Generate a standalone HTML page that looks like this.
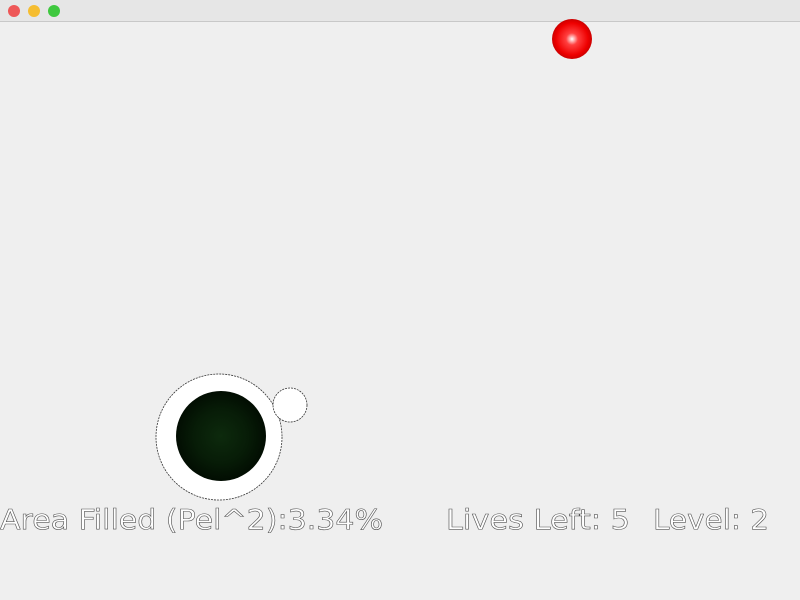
<!DOCTYPE html>
<html><head><style>
html,body{margin:0;padding:0;width:800px;height:600px;overflow:hidden;background:#efefef}
</style></head><body>
<svg width="800" height="600" style="position:absolute;left:0;top:0">
<defs>
<radialGradient id="rb" cx="50%" cy="50%" r="50%">
<stop offset="0" stop-color="#fff"/><stop offset="0.3" stop-color="#ff4040"/><stop offset="0.8" stop-color="#ee0000"/><stop offset="1" stop-color="#cc0000"/>
</radialGradient>
<radialGradient id="gb" cx="50%" cy="50%" r="50%">
<stop offset="0" stop-color="#0d2a0d"/><stop offset="0.6" stop-color="#071c07"/><stop offset="1" stop-color="#020d02"/>
</radialGradient>
</defs>
<g>
<rect x="0" y="0" width="800" height="22" fill="#e6e6e6"/>
<rect x="0" y="21" width="800" height="1" fill="#c8c8c8"/>
<circle cx="14" cy="11" r="6" fill="#ee5757"/>
<circle cx="34" cy="11" r="6" fill="#f5bd30"/>
<circle cx="54" cy="11" r="6" fill="#3fc83f"/>
</g>
<circle cx="572" cy="39" r="20" fill="url(#rb)"/>
<circle cx="219" cy="437" r="63" fill="#fff" stroke="#333" stroke-width="0.8" stroke-dasharray="2 1"/>
<circle cx="221" cy="436" r="45" fill="url(#gb)"/>
<circle cx="290" cy="405" r="17" fill="#fff" stroke="#333" stroke-width="0.8" stroke-dasharray="2 1"/>
<g font-family="DejaVu Sans, sans-serif" font-size="28" fill="#fff" stroke="#555" stroke-width="0.6">
<text x="0" y="529" textLength="383" lengthAdjust="spacingAndGlyphs">Area Filled (Pel^2):3.34%</text>
<text x="446" y="529" textLength="184" lengthAdjust="spacingAndGlyphs">Lives Left: 5</text>
<text x="653" y="529" textLength="116" lengthAdjust="spacingAndGlyphs">Level: 2</text>
</g>
</svg>
</body></html>
